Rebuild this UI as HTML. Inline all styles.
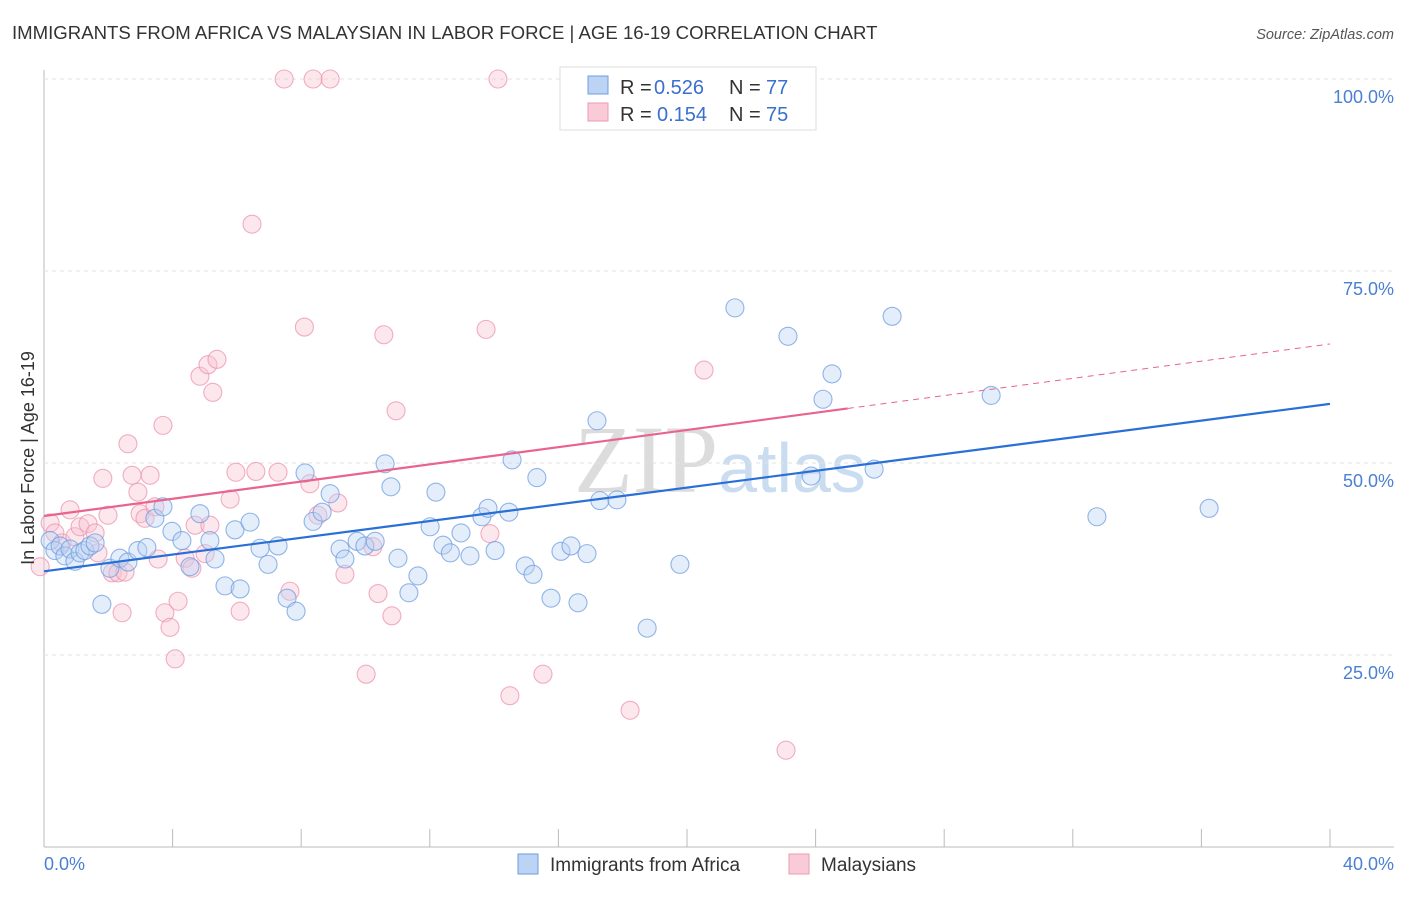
<!DOCTYPE html>
<html><head><meta charset="utf-8"><style>
body{margin:0;background:#fff;font-family:"Liberation Sans",sans-serif;}
</style></head><body>
<svg width="1406" height="892" xmlns="http://www.w3.org/2000/svg" id="chart">
<text x="12" y="39" font-size="18.6" fill="#333">IMMIGRANTS FROM AFRICA VS MALAYSIAN IN LABOR FORCE | AGE 16-19 CORRELATION CHART</text>
<text x="1394" y="39" font-size="14.5" fill="#555" text-anchor="end" font-style="italic">Source: ZipAtlas.com</text>
<text x="720" y="492" font-size="96" fill="#dcdcdc" text-anchor="middle" font-family="Liberation Serif,serif">ZIP<tspan fill="#cadcf0" font-family="Liberation Sans,sans-serif" font-size="70">atlas</tspan></text>
<g id="grid"></g>
<g id="pts"></g>
<g id="lines"></g>
<text transform="translate(34,458) rotate(-90)" font-size="18" fill="#333" text-anchor="middle">In Labor Force | Age 16-19</text>
<text x="44" y="870" font-size="18" fill="#4a7fd4">0.0%</text>
<text x="1394" y="870" font-size="18" fill="#4a7fd4" text-anchor="end">40.0%</text>
<g>
<rect x="560" y="67" width="256" height="63" fill="#fff" stroke="#ddd"/>
<rect x="588" y="76" width="20" height="18" fill="#bcd3f3" stroke="#6d9ee0"/>
<rect x="588" y="103" width="20" height="18" fill="#f9cbd9" stroke="#ee9ab4"/>
<text x="620" y="94" font-size="20" fill="#333">R =</text>
<text x="654" y="94" font-size="20" fill="#3a6fd0">0.526</text>
<text x="729" y="94" font-size="20" fill="#333">N =</text>
<text x="766" y="94" font-size="20" fill="#3a6fd0">77</text>
<text x="620" y="121" font-size="20" fill="#333">R =</text>
<text x="657" y="121" font-size="20" fill="#3a6fd0">0.154</text>
<text x="729" y="121" font-size="20" fill="#333">N =</text>
<text x="766" y="121" font-size="20" fill="#3a6fd0">75</text>
</g>
<g>
<rect x="518" y="854" width="20" height="20" fill="#bcd3f3" stroke="#6d9ee0"/>
<text x="550" y="871" font-size="19" fill="#333">Immigrants from Africa</text>
<rect x="789" y="854" width="20" height="20" fill="#f9cbd9" stroke="#ee9ab4"/>
<text x="821" y="871" font-size="19" fill="#333">Malaysians</text>
</g>
</svg>
<script>
const yTicks=[25,50,75,100];
const xTicks=[0,4,8,12,16,20,24,28,32,36,40];
const blueTrend=[35.9,57.7];
const pinkTrend=[43.1,65.5];
const blueX=[0.19,0.34,0.5,0.65,0.81,0.96,1.12,1.27,1.43,1.59,1.8,2.05,2.36,2.61,2.92,3.2,3.45,3.7,3.98,4.29,4.54,4.85,5.16,5.32,5.63,5.94,6.1,6.41,6.72,6.97,7.28,7.56,7.84,8.12,8.37,8.65,8.9,9.21,9.36,9.74,9.98,10.3,10.61,10.79,11.01,11.35,11.63,12.01,12.19,12.41,12.64,12.97,13.25,13.62,13.81,14.03,14.46,14.56,14.97,15.21,15.33,15.77,16.08,16.39,16.61,16.89,17.2,17.29,17.82,18.76,19.78,21.49,23.14,23.86,24.23,24.51,25.82,26.38,29.46,32.75,36.24];
const blueY=[39.9,38.6,39.2,37.9,38.8,37.2,38.3,38.6,39.2,39.6,31.6,36.3,37.6,37.1,38.6,39,42.8,44.3,41.1,39.9,36.5,43.4,39.9,37.5,34,41.3,33.6,42.3,38.9,36.8,39.2,32.4,30.7,48.7,42.4,43.6,46,38.8,37.5,39.8,39.2,39.8,49.9,46.9,37.6,33.1,35.3,41.7,46.2,39.3,38.3,40.9,37.9,43,44.1,38.6,43.6,50.4,36.6,35.5,48.1,32.4,38.5,39.2,31.8,38.2,55.5,45.1,45.2,28.5,36.8,70.2,66.5,48.3,58.3,61.6,49.2,69.1,58.8,43,44.1];
const pinkX=[-0.12,0.19,0.34,0.56,0.81,0.96,1.12,1.37,1.59,1.68,1.83,1.99,2.12,2.3,2.43,2.52,2.61,2.74,2.92,2.99,3.14,3.3,3.45,3.55,3.7,3.76,3.92,4.08,4.17,4.39,4.6,4.7,4.85,5.01,5.1,5.16,5.25,5.38,5.79,5.97,6.1,6.47,6.59,7.28,7.47,7.65,8.1,8.27,8.37,8.52,8.9,9.14,9.36,10.02,10.23,10.39,10.57,10.82,10.95,13.75,13.87,14.12,14.49,15.52,16.42,18.23,20.53,23.08];
const pinkY=[36.5,42.2,40.9,39.6,43.9,40.4,41.7,42.1,40.9,38.3,48,43.2,35.7,35.7,30.5,35.8,52.5,48.4,46.2,43.4,42.8,48.4,44.3,37.5,54.9,30.5,28.6,24.5,32,37.6,36.3,41.9,61.3,38.2,62.8,41.9,59.2,63.5,45.3,48.8,30.7,81.1,48.9,48.8,100,33.3,67.7,47.3,100,43.2,100,44.8,35.5,22.5,39.1,33,66.7,30.1,56.8,67.4,40.8,100,19.7,22.5,100,17.8,62.1,12.6];
const X0=44,X1=1330,Y0=847,Y1=79;
const sx=v=>X0+(v/40)*(X1-X0), sy=v=>Y0-(v/100)*(Y0-Y1);
const NS="http://www.w3.org/2000/svg";
function mk(t,a,p){const e=document.createElementNS(NS,t);for(const k in a)e.setAttribute(k,a[k]);p.appendChild(e);return e;}
const grid=document.getElementById('grid');
mk('line',{x1:X0,y1:70,x2:X0,y2:Y0,stroke:'#bbb'},grid);
mk('line',{x1:X0,y1:Y0,x2:1394,y2:Y0,stroke:'#bbb'},grid);
yTicks.forEach(v=>{
 const l=mk('line',{x1:X0,y1:sy(v),x2:1394,y2:sy(v),stroke:'#e2e2e2','stroke-dasharray':'4,4'},grid);
 
 
 const t=mk('text',{x:1394,y:sy(v)+24,'font-size':18,fill:'#4a7fd4','text-anchor':'end'},grid);
 t.textContent=v.toFixed(1)+'%';
 
 
});
xTicks.forEach(v=>{
 const l=mk('line',{x1:sx(v),y1:Y0,x2:sx(v),y2:Y0-18,stroke:'#bbb'},grid);
 
 
});
const pts=document.getElementById('pts');
function dots(xs,ys,fill,stroke,name){xs.forEach((x,i)=>{
 const c=mk('circle',{cx:sx(x),cy:sy(ys[i]),r:9,fill:fill,'fill-opacity':0.4,stroke:stroke,'stroke-opacity':0.75,'stroke-width':1.1},pts);
 
 
});}
dots(pinkX,pinkY,'#f7c3d3','#ee93b0','malaysian-point');
dots(blueX,blueY,'#bcd3f3','#6d9ee0','africa-point');
const lines=document.getElementById('lines');
const fb=x=>blueTrend[0]+(blueTrend[1]-blueTrend[0])*x/40, fp=x=>pinkTrend[0]+(pinkTrend[1]-pinkTrend[0])*x/40;
let l=mk('line',{x1:sx(0),y1:sy(fb(0)),x2:sx(40),y2:sy(fb(40)),stroke:'#2a6fd6','stroke-width':2.2},lines);

l=mk('line',{x1:sx(0),y1:sy(fp(0)),x2:sx(25),y2:sy(fp(25)),stroke:'#e8648e','stroke-width':2.2},lines);

l=mk('line',{x1:sx(25),y1:sy(fp(25)),x2:sx(40),y2:sy(fp(40)),stroke:'#e8648e','stroke-width':1,'stroke-dasharray':'6,5'},lines);

</script>
</body></html>
